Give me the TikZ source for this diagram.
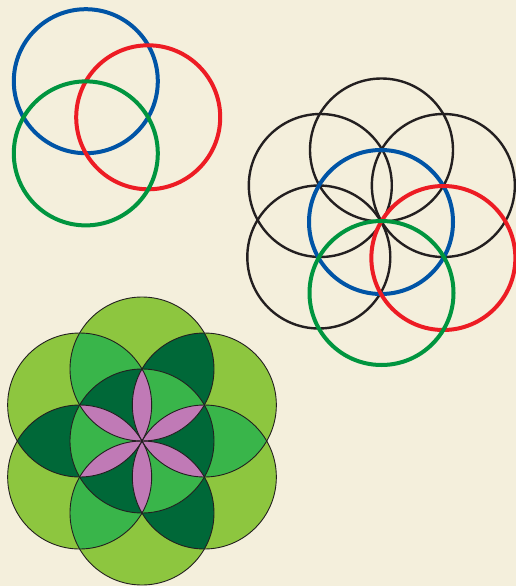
\documentclass[tikz,border=0pt]{standalone}
\definecolor{bg}{RGB}{244,239,220}
\definecolor{cblue}{RGB}{0,84,166}
\definecolor{cred}{RGB}{237,28,36}
\definecolor{cgreen}{RGB}{0,149,63}
\definecolor{cblack}{RGB}{35,31,32}
\definecolor{lgreen}{RGB}{141,198,63}
\definecolor{mgreen}{RGB}{57,181,74}
\definecolor{dgreen}{RGB}{0,104,56}
\definecolor{cpink}{RGB}{192,122,182}
\tikzset{
  thickring/.style={line width=4pt},
  blackring/.style={line width=2.4pt, draw=cblack},
  outline/.style={line width=0.9pt, draw=cblack}
}
\begin{document}
\begin{tikzpicture}[x=1pt,y=-1pt]
\fill[bg] (0,0) rectangle (516,586);
\useasboundingbox (0,0) rectangle (516,586);
% ---------- top-left: three circles ----------
\coordinate (TB) at (85.8,81.2);
\coordinate (TR) at (148.2,117.3);
\coordinate (TG) at (85.8,153.4);
\draw[thickring, cblue] (TB) circle (72pt);
\draw[thickring, cred] (TR) circle (72pt);
\draw[thickring, cgreen] (TG) circle (72pt);
% ---------- right: seven circles ----------
\coordinate (RM) at (381,222);
\coordinate (R0) at (381.5,150);
\coordinate (R1) at (320.3,185.5);
\coordinate (R2) at (318.8,257);
\coordinate (R3) at (381.5,293);
\coordinate (R4) at (443.35,258);
\coordinate (R5) at (443.35,185.5);
\foreach \i in {0,1,2,5} \draw[blackring] (R\i) circle (71.5pt);
\draw[thickring, cblue] (RM) circle (72pt);
\draw[thickring, cred] (R4) circle (72pt);
\draw[thickring, cgreen] (R3) circle (72pt);
% ---------- bottom-left: coloured flower ----------
\coordinate (FM) at (142,441);
\coordinate (F0) at (142,369);
\coordinate (F1) at (79.65,405);
\coordinate (F2) at (79.65,477);
\coordinate (F3) at (142,513);
\coordinate (F4) at (204.35,477);
\coordinate (F5) at (204.35,405);
\foreach \i in {0,...,5} \fill[lgreen] (F\i) circle (72pt);
\foreach \a/\b/\c in {0/1/mgreen,1/2/dgreen,2/3/mgreen,3/4/dgreen,4/5/mgreen,5/0/dgreen}{
  \begin{scope}
    \clip (F\a) circle (72pt);
    \fill[\c] (F\b) circle (72pt);
  \end{scope}
}
\begin{scope}
  \clip (FM) circle (72pt);
  \foreach \a/\b/\c in {0/1/dgreen,1/2/mgreen,2/3/dgreen,3/4/mgreen,4/5/dgreen,5/0/mgreen}{
    \begin{scope}
      \clip (F\a) circle (72pt);
      \fill[\c] (F\b) circle (72pt);
    \end{scope}
  }
\end{scope}
\foreach \a/\b in {0/2,1/3,2/4,3/5,4/0,5/1}{
  \begin{scope}
    \clip (F\a) circle (72pt);
    \fill[cpink] (F\b) circle (72pt);
  \end{scope}
}
\foreach \i in {0,...,5,M} \draw[outline] (F\i) circle (72pt);
\end{tikzpicture}
\end{document}
